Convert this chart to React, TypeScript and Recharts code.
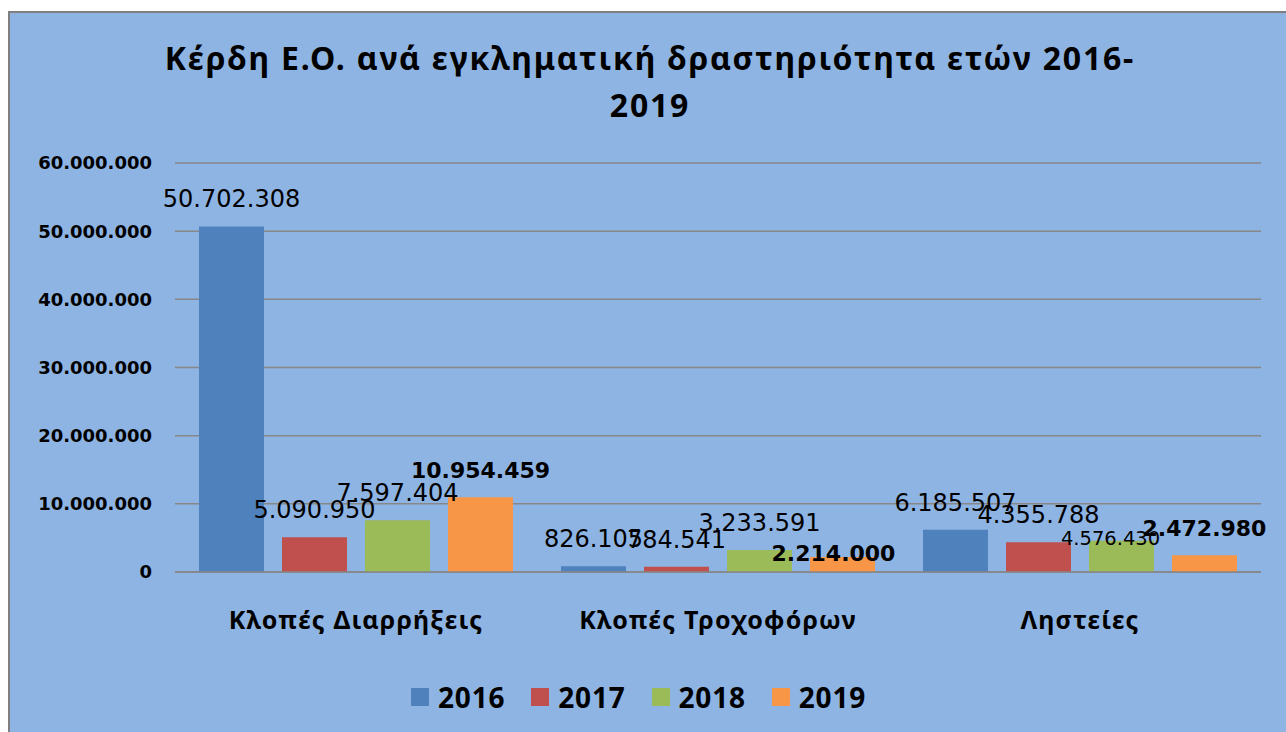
import { Bar, BarChart, CartesianGrid, XAxis, YAxis } from "recharts";

const categories = ["Κλοπές Διαρρήξεις", "Κλοπές Τροχοφόρων", "Ληστείες"];
const years = ["2016", "2017", "2018", "2019"];
const values2016 = [50702308, 826105, 6185507];
const values2017 = [5090950, 784541, 4355788];
const values2018 = [7597404, 3233591, 4576430];
const values2019 = [10954459, 2214000, 2472980];
const yTicks = [0, 10000000, 20000000, 30000000, 40000000, 50000000, 60000000];

const colors = ["#4F81BD", "#C0504D", "#9BBB59", "#F79646"];
const seriesValues = [values2016, values2017, values2018, values2019];

const data = categories.map((name, i) => {
  const row: any = { name };
  years.forEach((y, s) => {
    row[y] = seriesValues[s][i];
  });
  return row;
});

const fmt = (n: number) => String(n).replace(/\B(?=(\d{3})+(?!\d))/g, ".");

// a couple of labels were dragged by hand in the original
const labelNudge: Record<string, { dx: number; dy: number; size?: number }> = {
  "2019-1": { dx: -9, dy: 23 },
  "2018-2": { dx: -11, dy: 23, size: 19.5 },
};

const makeLabel = (year: string, bold: boolean) => (props: any) => {
  const { x, y, width, value, index } = props;
  const nudge = labelNudge[`${year}-${index}`] || { dx: 0, dy: 0 };
  const size = nudge.size || (bold ? 22 : 24);
  return (
    <text
      x={x + width / 2 + nudge.dx}
      y={y - 19 + nudge.dy}
      textAnchor="middle"
      fontFamily="DejaVu Sans"
      fontWeight={bold ? "bold" : "normal"}
      fontSize={size}
      fill="#000"
    >
      {fmt(value)}
    </text>
  );
};

export default function App() {
  return (
    <div
      style={{
        position: "absolute",
        left: 8,
        top: 11,
        width: 1278,
        height: 721,
        boxSizing: "border-box",
        borderLeft: "2px solid #7f7f7f",
        borderTop: "2px solid #7f7f7f",
        background: "#8EB4E3",
        overflow: "hidden",
      }}
    >
      <div
        style={{
          position: "absolute",
          left: 0,
          top: 21,
          width: 1280,
          textAlign: "center",
          fontFamily: "Noto Sans",
          fontWeight: "bold",
          fontSize: 32,
          letterSpacing: 1.8,
          lineHeight: "47px",
          color: "#000",
        }}
      >
        Κέρδη Ε.Ο. ανά εγκληματική δραστηριότητα ετών 2016-
        <br />
        2019
      </div>
      <BarChart
        width={1276}
        height={719}
        data={data}
        margin={{ top: 150, right: 25, bottom: 100, left: 0 }}
        barCategoryGap={24}
        barGap={18}
      >
        <CartesianGrid vertical={false} stroke="#878787" strokeWidth={1.5} />
        <XAxis
          dataKey="name"
          height={60}
          axisLine={{ stroke: "#878787", strokeWidth: 1.5 }}
          tickLine={false}
          tickSize={0}
          tickMargin={39}
          tick={{
            fill: "#000",
            fontSize: 25,
            fontWeight: "bold",
            fontFamily: "Noto Sans",
            letterSpacing: 1.2,
          }}
        />
        <YAxis
          width={165}
          domain={[0, 60000000]}
          ticks={yTicks}
          axisLine={false}
          tickLine={false}
          tickSize={0}
          tickMargin={23}
          tickFormatter={fmt}
          tick={{
            fill: "#000",
            fontSize: 18,
            fontWeight: "bold",
            fontFamily: "DejaVu Sans",
          }}
        />
        {years.map((y, s) => (
          <Bar
            key={y}
            dataKey={y}
            fill={colors[s]}
            isAnimationActive={false}
            label={makeLabel(y, y === "2019")}
          />
        ))}
      </BarChart>
      <div
        style={{
          position: "absolute",
          left: 401,
          top: 669,
          height: 30,
          display: "flex",
          alignItems: "center",
          fontFamily: "Noto Sans",
          fontWeight: "bold",
          fontSize: 28,
          letterSpacing: 0.8,
          color: "#000",
        }}
      >
        {years.map((y, s) => (
          <div key={y} style={{ display: "flex", alignItems: "center", marginRight: 26 }}>
            <span
              style={{
                display: "inline-block",
                width: 18,
                height: 18,
                background: colors[s],
                marginRight: 9,
              }}
            />
            <span>{y}</span>
          </div>
        ))}
      </div>
    </div>
  );
}
